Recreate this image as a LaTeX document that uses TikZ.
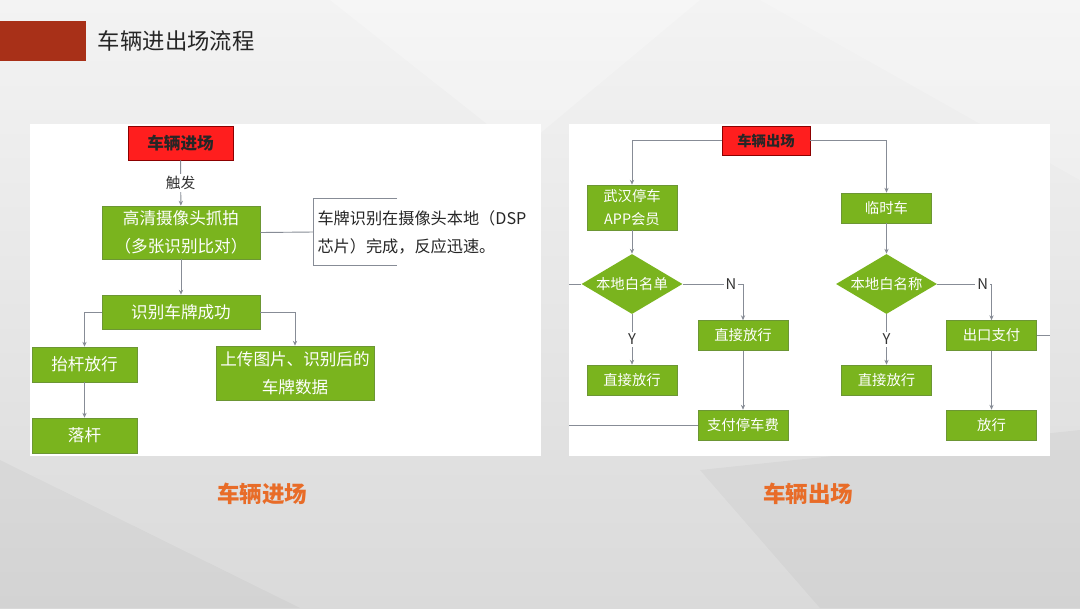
\documentclass[tikz,border=0pt]{standalone}
\usepackage{fontspec}
\setmainfont{Noto Sans CJK SC}
\usepackage{xcolor}
\usepackage{tikz}
\usetikzlibrary{shapes,arrows.meta,positioning}

\definecolor{slidered}{RGB}{168,48,24}
\definecolor{boxred}{RGB}{255,30,30}
\definecolor{boxgreen}{RGB}{122,180,30}
\definecolor{greenedge}{RGB}{108,150,52}
\definecolor{linegray}{RGB}{135,140,150}
\definecolor{captionorange}{RGB}{232,108,40}
\definecolor{bgtop}{RGB}{243,243,243}
\definecolor{bgbottom}{RGB}{218,218,218}

\begin{document}
\begin{tikzpicture}[x=0.025cm, y=-0.025cm,
    start/.style={rectangle, draw=red!55!black, fill=boxred, text=black!85, font=\fontsize{11.8}{14}\selectfont\bfseries, minimum width=2.625cm, minimum height=0.85cm},
    stepbox/.style={rectangle, draw=greenedge, fill=boxgreen, text=white, align=center, inner sep=1pt, font=\fontsize{11.8}{19.5}\selectfont},
    smallbox/.style={stepbox, minimum width=2.25cm, minimum height=0.75cm, font=\fontsize{10.2}{17}\selectfont},
    check/.style={diamond, aspect=1.68, fill=boxgreen, text=white, inner sep=0pt, minimum width=2.525cm, minimum height=1.5cm, font=\fontsize{10.2}{12}\selectfont},
    note/.style={rectangle, anchor=west, align=left, inner sep=3pt, minimum height=1.65cm, text=black!85, font=\fontsize{11.5}{20}\selectfont},
    lbl/.style={fill=white, inner sep=1.5pt, text=black!80, font=\fontsize{10.5}{12}\selectfont},
    caption/.style={text=captionorange, font=\fontsize{16}{18}\selectfont\bfseries},
    line/.style={draw=linegray, line width=0.65pt},
    arrow/.style={line, -{Stealth[length=3.5pt,width=3pt]}}
]
    \useasboundingbox (0,0) rectangle (1080,608);

    % Slide background
    \shade[top color=bgtop, bottom color=bgbottom] (0,0) rectangle (1080,608);
    \fill[white, opacity=0.25] (330,0) -- (700,0) -- (520,150) -- cycle;
    \fill[white, opacity=0.2] (760,0) -- (1080,0) -- (1080,180) -- cycle;
    \fill[black, opacity=0.03] (0,460) -- (300,608) -- (0,608) -- cycle;
    \fill[black, opacity=0.03] (700,470) -- (1080,430) -- (1080,608) -- (820,608) -- cycle;

    % Title bar
    \fill[slidered] (0,21) rectangle (86,61);
    \node[anchor=west, text=black!85, font=\fontsize{15.9}{18}\selectfont] (title) at (93,41) {车辆进出场流程};

    % Panels
    \fill[white] (30,124) rectangle (541,456);
    \fill[white] (569,124) rectangle (1050,456);

    % Vehicle entry
    \node[start] (enter) at (180.5,143) {车辆进场};
    \node[stepbox, minimum width=3.95cm, minimum height=1.325cm] (cam) at (181,232.5) {高清摄像头抓拍\\（多张识别比对）};
    \node[note] (note) at (313,232) {车牌识别在摄像头本地（DSP\\芯片）完成，反应迅速。};
    \node[stepbox, minimum width=3.95cm, minimum height=0.85cm] (ok) at (181,312) {识别车牌成功};
    \node[stepbox, minimum width=2.625cm, minimum height=0.875cm] (lift) at (84.5,364.5) {抬杆放行};
    \node[stepbox, minimum width=3.95cm, minimum height=1.35cm] (upload) at (295,373) {上传图片、识别后的\\车牌数据};
    \node[stepbox, minimum width=2.625cm, minimum height=0.875cm] (drop) at (84.5,435.5) {落杆};

    \draw[arrow] (enter) -- node[lbl] {触发} (cam);
    \draw[line] (cam.east) -- (note.west);
    \draw[line] ([xshift=2.1cm]note.north west) -- (note.north west) -- (note.south west) -- ([xshift=2.1cm]note.south west);
    \draw[arrow] (cam) -- (ok);
    \draw[arrow] (ok.west) -| (lift.north);
    \draw[arrow] (ok.east) -| (upload.north);
    \draw[arrow] (lift) -- (drop);

    % Vehicle exit
    \node[start, minimum width=2.2cm, minimum height=0.725cm, font=\fontsize{10.2}{12}\selectfont\bfseries] (exit) at (766,140.5) {车辆出场};
    \node[smallbox, minimum height=1.125cm] (member) at (632,207.5) {武汉停车\\APP会员};
    \node[check] (white1) at (632,284) {本地白名单};
    \node[smallbox] (pass1) at (632,380) {直接放行};
    \node[smallbox] (pass2) at (743,335.5) {直接放行};
    \node[smallbox] (fee) at (743,425) {支付停车费};
    \node[smallbox] (temp) at (886.5,208) {临时车};
    \node[check] (white2) at (886.5,284) {本地白名称};
    \node[smallbox] (pass3) at (886.5,380) {直接放行};
    \node[smallbox] (pay) at (991.5,335.5) {出口支付};
    \node[smallbox] (go) at (991.5,425) {放行};

    % Loose ends at the panel edges
    \coordinate (cutA) at (569,284);
    \coordinate (cutB) at (569,425);
    \coordinate (cutC) at (1050,335.5);

    \draw[arrow] (exit.west) -| (member.north);
    \draw[arrow] (exit.east) -| (temp.north);
    \draw[arrow] (member) -- (white1);
    \draw[line] (white1) -- (cutA);
    \draw[arrow] (white1) -- node[lbl] {Y} (pass1);
    \draw[arrow] (white1.east) -| node[lbl, pos=0.4] {N} (pass2.north);
    \draw[arrow] (pass2) -- (fee);
    \draw[line] (fee) -- (cutB);
    \draw[arrow] (temp) -- (white2);
    \draw[arrow] (white2) -- node[lbl] {Y} (pass3);
    \draw[arrow] (white2.east) -| node[lbl, pos=0.42] {N} (pay.north);
    \draw[arrow] (pay) -- (go);
    \draw[line] (pay) -- (cutC);

    % Captions
    \node[caption] (capin) at (262,494) {车辆进场};
    \node[caption] (capout) at (808,494) {车辆出场};
\end{tikzpicture}
\end{document}
